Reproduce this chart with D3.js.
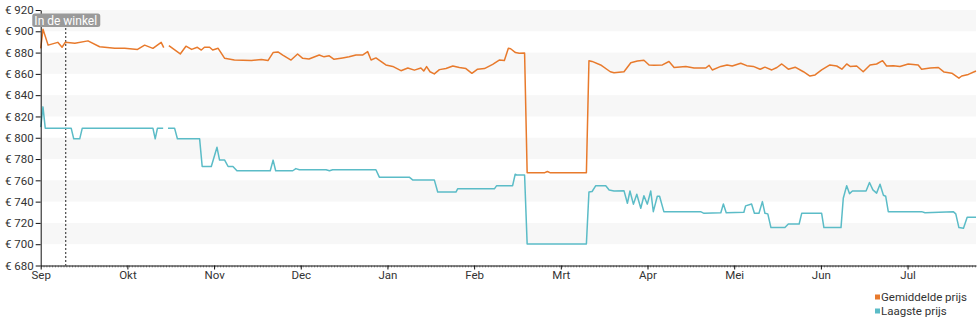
<!DOCTYPE html>
<html>
<head>
<meta charset="utf-8">
<script src="https://cdn.jsdelivr.net/npm/d3@7"></script>
<style>
  html, body { margin: 0; padding: 0; background: #fff; }
  svg { display: block; font-family: Roboto, "Noto Sans", sans-serif; }
</style>
</head>
<body>
<svg id="chart" width="980" height="325"></svg>
<script>
// ---- data (day index from 1 Sep, price in euro) ----
const monthLabels = ["Sep", "Okt", "Nov", "Dec", "Jan", "Feb", "Mrt", "Apr", "Mei", "Jun", "Jul"];
const yTicks = [680, 700, 720, 740, 760, 780, 800, 820, 840, 860, 880, 900, 920];
const storeDay = 8.8;
const storeLabel = "In de winkel";
const seriesNames = ["Gemiddelde prijs", "Laagste prijs"];

const avgDays = [0, 0.8, 2.6, 6, 7.5, 8.6, 12, 16.6, 20.7, 26, 29.5, 34, 36.5, 39.4, 42.3, 43.2, 44,
  45, 49, 51, 53, 55, 56.4, 57.5, 59.3, 60.4, 62.3, 64.6, 68, 74, 77.5, 79.8, 81.6, 83.3,
  85, 87.9, 90.2, 92, 94.2, 97.8, 99.5, 101.3, 103, 106, 108.3, 110.7, 113, 114.8, 116, 117.7,
  121.2, 123.6, 126.5, 128.9, 131.2, 133.5, 134.5, 135.5, 136.7, 138.2, 140, 142.3, 144.7, 147,
  149.3, 151.4, 153.4, 155.8, 158.7, 161, 162.8, 164.2, 165, 166.7, 168, 169.9,
  170.8, 177, 177.9, 178.8, 191.6,
  192.5, 193.6, 196.6, 200, 201.3, 204.8, 207.2, 209.5, 211.8, 213.6, 215.4, 218.3, 220.6, 222.4,
  226.5, 229.4, 233.5, 234.7, 235.8, 238.8, 241, 242.8, 245.8, 247.9, 250.2, 252.6, 254.3, 256.7,
  258.5, 260.2, 262.5, 264.9, 267.8, 270.1, 271.9, 274.2, 277.1, 279.5, 281.3, 283, 284.2, 286.5,
  288.8, 291.2, 293.5, 295.6, 297, 299.4, 301.7, 304.6, 308.1, 309.3, 312.3, 315.2, 317.2, 319.9,
  322.4, 323.4, 325.7, 328.4];
const avgPrices = [884, 902, 887, 889.6, 885, 889.6, 888.7, 891, 885.5, 884, 884, 883, 887, 884, 889.6, 884.6, null,
  886.5, 878.7, 886, 883, 885, 882.4, 885, 885, 882.4, 884, 874.6, 873, 872.5, 873.6, 872.5, 880, 880.6,
  877.7, 873, 878.7, 874.6, 874, 877.7, 876, 877, 873.7, 875, 876, 877.7, 877.7, 880.9, 873, 875,
  868.4, 867, 863, 865.5, 863.5, 865.5, 862.7, 866.8, 862, 860, 864, 865, 867.4, 866,
  865, 860.5, 864.4, 865, 869, 873, 872.5, 884, 883.6, 880, 879.3, 879.6,
  767.2, 767.2, 768.3, 767.2, 767.2,
  872.4, 871.7, 868.4, 862, 861, 862, 870.5, 872, 872.8, 868.4, 868, 868.4, 871.6, 866,
  867, 865.5, 865.5, 868, 863.7, 867, 868.4, 867.4, 870, 867.7, 867, 864.4, 866.3, 863.7,
  866, 869.3, 864.4, 866.3, 862, 858, 859, 863.7, 868.4, 867.4, 864.4, 869.3, 867, 867.4,
  862, 868.4, 869.3, 872.4, 867.4, 867.7, 867, 869.3, 868.4, 864.4, 865.5, 866, 861.7, 860.6,
  856, 858, 859.5, 862.7];

const lowDays = [0, 0.8, 1.6, 10.7, 11.6, 13.7, 14.6, 39.4, 40.2, 41, 43, 44,
  44.7, 47, 48, 55.8, 56.7, 59.9, 61.9, 62.8, 64.6, 65.8, 67.5, 68.9, 80.6, 81.6, 82.5,
  88.5, 89.6, 90.8, 100.2, 101.4, 102.5, 117.7, 118.9, 129.4, 130.6, 138.2, 139.4, 145.8, 146.4,
  159.3, 160.1, 165.7, 166.6, 167.1, 169.9, 170.8, 191.6,
  192.5, 193.6, 194.9, 198.4, 199.6, 201.3, 204.8, 206, 206.9, 208.1, 209.3, 210.7, 211.8, 213,
  214.2, 215.1, 216.5, 217.3, 218.8, 231.7, 232.9, 238.8, 239.7, 240.7, 246.9, 247.5, 249.6,
  250.6, 252.2, 253.4, 254.3, 255.3, 256.4, 261.3, 262.5, 266.3, 267.2, 274.2, 275, 281, 281.8,
  283, 284, 285, 289.8, 291, 292.2, 293.5, 294.7, 295.9, 296.7, 297.6, 309.3, 310.5, 320.4,
  321.3, 322.4, 324, 325.3, 328.4];
const lowPrices = [810, 829, 809, 809, 799, 799, 809, 809, 799, 809, 809, null,
  809, 809, 799, 799, 773, 773, 791, 779, 779, 773, 773, 769, 769, 779, 769,
  769, 771, 770, 770, 769, 770, 770, 763, 763, 760.4, 760.4, 749, 749, 752,
  752, 755, 755, 765.7, 765, 765, 700.3, 700.3,
  749, 749.5, 755, 755, 751, 750, 750.3, 738.5, 750, 737.6, 747, 733.8, 745.5, 737.6,
  750, 730.6, 745, 745, 730.6, 730.6, 729, 729.5, 737.8, 729.5, 730, 736, 737.8,
  729, 729, 740, 729, 728.5, 715.6, 715.6, 719, 719, 729, 729, 715.6, 715.6, 743.2,
  755, 747.5, 750, 750, 758, 751, 748, 756.3, 746, 745, 730.6, 730.6, 729.5, 730.6,
  728.5, 715.6, 715, 725.3, 725.3];

// ---- layout ----
const svg = d3.select("#chart");
const plotL = 40.7, plotR = 976, plotT = 10, plotB = 265.5;
const x = d3.scaleLinear().domain([0, 328.4]).range([plotL, plotR]);
const y = d3.scaleLinear().domain([680, 920]).range([plotB, plotT]);
const daysPerMonth = 365.25 / 12;

// alternating bands
const bands = yTicks.slice(0, -1).filter(v => (v - 700) % 40 === 0);
svg.append("g").selectAll("rect").data(bands).join("rect")
  .attr("x", plotL).attr("width", plotR - plotL)
  .attr("y", d => y(d + 20)).attr("height", d => y(d) - y(d + 20))
  .attr("fill", "#f7f7f7");

// store line
svg.append("line")
  .attr("x1", x(storeDay)).attr("x2", x(storeDay))
  .attr("y1", 20).attr("y2", plotB)
  .attr("stroke", "#222").attr("stroke-width", 1).attr("stroke-dasharray", "2,2");

// lines
const avgData = avgDays.map((d, i) => ({ d, v: avgPrices[i] }));
const lowData = lowDays.map((d, i) => ({ d, v: lowPrices[i] }));
const line = d3.line().defined(p => p.v !== null && p.v !== undefined).x(p => x(p.d)).y(p => y(p.v));
svg.append("path").datum(lowData).attr("d", line)
  .attr("fill", "none").attr("stroke", "#5bbcc7").attr("stroke-width", 1.5).attr("stroke-linejoin", "round");
svg.append("path").datum(avgData).attr("d", line)
  .attr("fill", "none").attr("stroke", "#e87a2c").attr("stroke-width", 1.5).attr("stroke-linejoin", "round");

// y axis
const yAxis = svg.append("g").attr("transform", `translate(${plotL},0)`)
  .call(d3.axisLeft(y).tickValues(yTicks).tickSize(5).tickSizeOuter(0).tickFormat(v => "€ " + v));
yAxis.select(".domain").attr("stroke", "#111");
yAxis.selectAll(".tick line").attr("stroke", "#111");
yAxis.selectAll("text").attr("font-size", 11.5).attr("fill", "#333").attr("font-family", "Roboto, sans-serif").attr("dx", 1);

// x axis minor ticks (daily)
const minor = svg.append("g").attr("transform", `translate(0,${plotB})`)
  .call(d3.axisBottom(x).tickValues(d3.range(0, 329)).tickSize(2).tickFormat(""));
minor.select(".domain").remove();
minor.selectAll(".tick line").attr("stroke", "#999");

// x axis major ticks
const xAxis = svg.append("g").attr("transform", `translate(0,${plotB})`)
  .call(d3.axisBottom(x).tickValues(monthLabels.map((m, i) => i * daysPerMonth))
    .tickSize(4).tickSizeOuter(0).tickPadding(1).tickFormat((d, i) => monthLabels[i]));
xAxis.select(".domain").attr("stroke", "#111");
xAxis.selectAll(".tick line").attr("stroke", "#111");
xAxis.selectAll("text").attr("font-size", 11.5).attr("fill", "#333").attr("font-family", "Roboto, sans-serif");

// store label
const lab = svg.append("g").attr("transform", `translate(${x(storeDay)},20.5)`);
lab.append("rect").attr("x", -33.5).attr("y", -7).attr("width", 68).attr("height", 13.5)
  .attr("rx", 2.5).attr("fill", "#9a9a9a");
lab.append("text").attr("text-anchor", "middle").attr("dy", "0.36em")
  .attr("font-size", 12).attr("fill", "#fff").text(storeLabel);

// legend
const colors = ["#e87a2c", "#5bbcc7"];
const leg = svg.append("g").attr("transform", "translate(875,296)");
seriesNames.forEach((n, i) => {
  const g = leg.append("g").attr("transform", `translate(0,${i * 14})`);
  g.append("rect").attr("x", 0).attr("y", -1.5).attr("width", 5).attr("height", 5).attr("fill", colors[i]);
  g.append("text").attr("x", 6).attr("y", 1).attr("dy", "0.35em")
    .attr("font-size", 11.5).attr("fill", "#333").text(n);
});
</script>
</body>
</html>
